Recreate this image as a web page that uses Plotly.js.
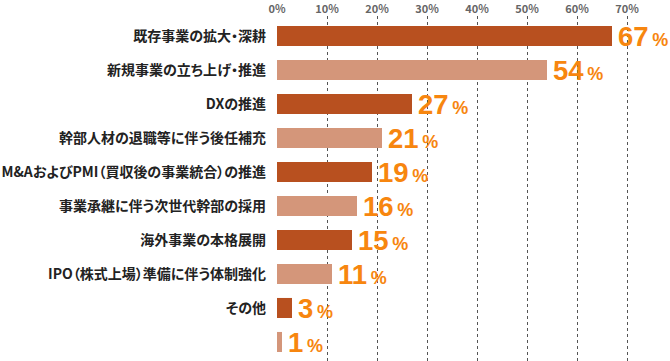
<!DOCTYPE html>
<html><head><meta charset="utf-8">
<script src="https://cdn.plot.ly/plotly-3.0.1.min.js"></script>
<style>html,body{margin:0;padding:0;background:#fff}#chart{width:670px;height:361px}
#chart .ytick text{font-feature-settings:"palt";}</style>
</head><body><div id="chart"></div>
<script>
const categories = ["既存事業の拡大・深耕","新規事業の立ち上げ・推進","DXの推進","幹部人材の退職等に伴う後任補充","M&AおよびPMI（買収後の事業統合）の推進","事業承継に伴う次世代幹部の採用","海外事業の本格展開","IPO（株式上場）準備に伴う体制強化","その他",""];
const values = [67,54,27,21,19,16,15,11,3,1];
const tickValues = [0,10,20,30,40,50,60,70];
const tickLabels = ["0%","10%","20%","30%","40%","50%","60%","70%"];
const darkColor = "#b8501f", lightColor = "#d4967a", labelColor = "#f7860f";

const ids = categories.map((c,i)=>i);
const colors = values.map((v,i)=> i%2===0 ? darkColor : lightColor);

const trace = {
  type:"bar", orientation:"h", x:values, y:ids,
  marker:{color:colors, line:{width:0}}, width:0.59, hoverinfo:"none"
};
const annotations = values.map((v,i)=>({
  x:v, y:i, xref:"x", yref:"y", xanchor:"left", yanchor:"middle", xshift:4, yshift:-1, showarrow:false,
  text:`<b>${v}<span style="font-size:18px">\u2009%</span></b>`,
  font:{family:"Liberation Sans, Arial, sans-serif", size:27.5, color:labelColor}
}));
const layout = {
  width:670, height:361, margin:{l:277,r:0,t:16,b:0},
  paper_bgcolor:"#fff", plot_bgcolor:"#fff", showlegend:false,
  font:{family:"Noto Sans CJK JP, sans-serif"},
  xaxis:{side:"top", range:[0,78.6], tickvals:tickValues, ticktext:tickLabels, showgrid:true,
    gridcolor:"#555", griddash:"dot", gridwidth:1, zeroline:false, showline:false, ticks:"", fixedrange:true,
    ticklabelstandoff:0,
    tickfont:{family:"Noto Sans CJK JP, sans-serif", size:11, color:"#666", weight:"bold"}},
  yaxis:{range:[9.559,-0.588], tickvals:ids, ticktext:categories, showgrid:false, zeroline:false, showline:false,
    ticks:"", ticklabelstandoff:10, fixedrange:true,
    tickfont:{family:"Noto Sans CJK JP, sans-serif", size:14, color:"#222", weight:"bold"}},
  annotations:annotations
};
Plotly.newPlot("chart",[trace],layout,{displayModeBar:false,staticPlot:true});
</script></body></html>
